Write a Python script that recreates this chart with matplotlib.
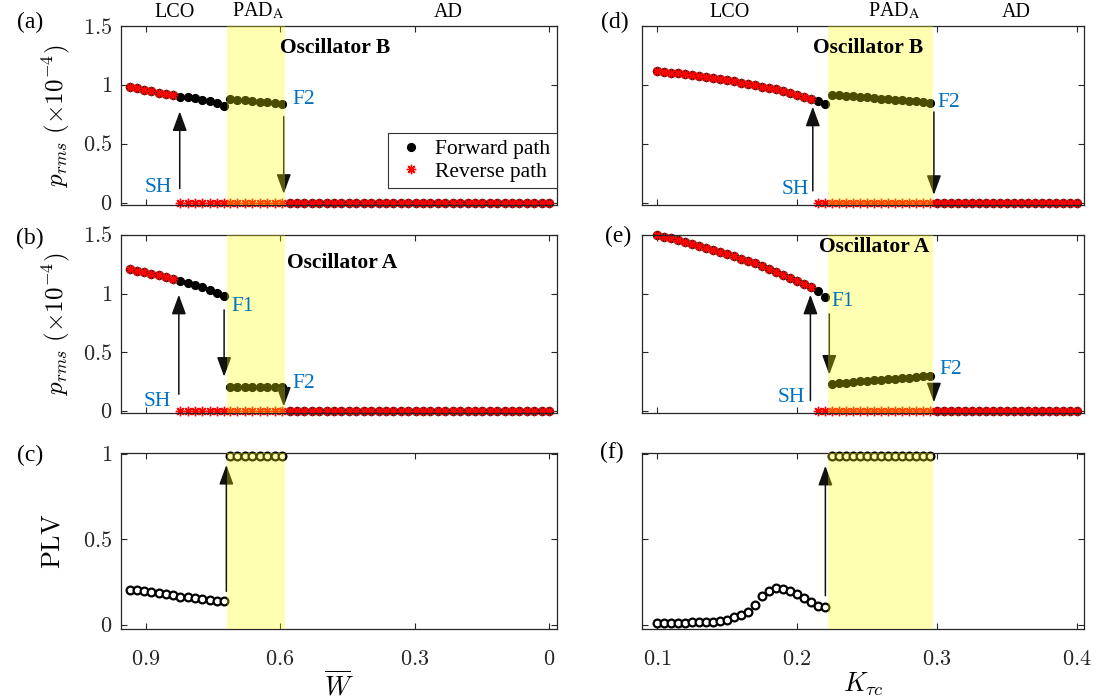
import numpy as np
import matplotlib
matplotlib.use('Agg')
import matplotlib.pyplot as plt
from matplotlib.lines import Line2D

plt.rcParams['mathtext.fontset'] = 'cm'
plt.rcParams['font.family'] = ['Liberation Serif', 'DejaVu Serif']

# ---------------- data: left column (sweep of W-bar, decreasing) ----------------
W_lco = np.linspace(0.936, 0.725, 14)
W_pad = np.linspace(0.712, 0.595, 8)
W_ad = np.linspace(0.579, 0.0, 36)
n_sh_W = 7   # reverse path stays on LCO for the first 7 points

pB_W_lco = [0.98, 0.97, 0.958, 0.947, 0.935, 0.923, 0.912, 0.90, 0.895, 0.887, 0.873, 0.864, 0.85, 0.824]
pB_W_pad = [0.878, 0.874, 0.868, 0.864, 0.858, 0.852, 0.846, 0.84]
pA_W_lco = [1.21, 1.196, 1.185, 1.171, 1.16, 1.145, 1.128, 1.108, 1.091, 1.074, 1.054, 1.031, 1.008, 0.98]
pA_W_pad = [0.202, 0.201, 0.2, 0.2, 0.2, 0.2, 0.199, 0.199]
plv_W_lco = [0.205, 0.201, 0.195, 0.192, 0.186, 0.18, 0.172, 0.165, 0.161, 0.155, 0.149, 0.144, 0.14, 0.138]
plv_W_pad = [0.99, 0.99, 0.99, 0.99, 0.99, 0.99, 0.99, 0.99]

# ---------------- data: right column (sweep of K_tau_c, increasing) ----------------
K_lco = np.round(np.arange(0.100, 0.2201, 0.005), 3)
K_pad = np.round(np.arange(0.225, 0.2951, 0.005), 3)
K_ad = np.round(np.arange(0.300, 0.4001, 0.005), 3)
n_sh_K = 23

pB_K_lco = [1.12, 1.112, 1.105, 1.097, 1.09, 1.083, 1.075, 1.068, 1.06, 1.05, 1.04, 1.03, 1.02,
            1.008, 0.997, 0.986, 0.975, 0.963, 0.95, 0.935, 0.918, 0.90, 0.88, 0.866, 0.837]
pB_K_pad = [0.917, 0.912, 0.907, 0.902, 0.897, 0.893, 0.888, 0.884, 0.879, 0.874, 0.869, 0.864, 0.859, 0.854, 0.849]
pA_K_lco = [1.5, 1.486, 1.472, 1.455, 1.44, 1.422, 1.406, 1.389, 1.372, 1.354, 1.336, 1.318, 1.298,
            1.278, 1.258, 1.236, 1.212, 1.188, 1.162, 1.136, 1.108, 1.082, 1.055, 1.02, 0.97]
pA_K_pad = [0.229, 0.234, 0.239, 0.244, 0.249, 0.254, 0.258, 0.263, 0.268, 0.273, 0.278, 0.283, 0.288, 0.292, 0.297]
plv_K_lco = [0.01, 0.008, 0.008, 0.01, 0.012, 0.014, 0.016, 0.016, 0.018, 0.021, 0.029, 0.043, 0.057,
             0.076, 0.117, 0.166, 0.195, 0.213, 0.211, 0.2, 0.18, 0.154, 0.131, 0.111, 0.101]
plv_K_pad = [0.99] * 15

band_W = (0.718, 0.589)
band_K = (0.2222, 0.2975)

W_ticks = [0.9, 0.6, 0.3, 0.0]
W_ticklabels = ['$0.9$', '$0.6$', '$0.3$', '$0$']
K_ticks = [0.1, 0.2, 0.3, 0.4]
K_ticklabels = ['$0.1$', '$0.2$', '$0.3$', '$0.4$']
p_ticks = [0, 0.5, 1, 1.5]
p_ticklabels = ['$0$', '$0.5$', '$1$', '$1.5$']
plv_ticks = [0, 0.5, 1]
plv_ticklabels = ['$0$', '$0.5$', '$1$']

# ---------------- figure ----------------
fig = plt.figure(figsize=(11.02, 6.99), dpi=100)
LX, LW = 121 / 1102, 436 / 1102
RX, RW = 642 / 1102, 442 / 1102
rows = [(1 - 205 / 699, 179 / 699), (1 - 413 / 699, 178 / 699), (1 - 629 / 699, 176 / 699)]

axes = {}
for key, x0, w in [('L', LX, LW), ('R', RX, RW)]:
    for i, (b, h) in enumerate(rows):
        axes[(key, i)] = fig.add_axes([x0, b, w, h])

SPINE = '#262626'
BLUE = '#0070C0'
YEL = (1.0, 1.0, 0.0)


def style(ax):
    for s in ax.spines.values():
        s.set_color(SPINE)
        s.set_linewidth(0.9)
    ax.tick_params(direction='in', top=True, right=True, length=4, width=0.8,
                   colors=SPINE, labelsize=16)
    ax.tick_params(axis='y', pad=6)
    ax.tick_params(axis='x', pad=16)


def arrow(ax, x, y0, y1, lw=1.1):
    ax.annotate('', xy=(x, y1), xytext=(x, y0),
                arrowprops=dict(arrowstyle='-|>,head_length=0.6,head_width=0.22',
                                mutation_scale=20, lw=lw, color='#111111',
                                shrinkA=0, shrinkB=0),
                zorder=2.8, annotation_clip=False)


def plot_p(ax, x_lco, x_pad, x_ad, lco, pad, n_sh):
    xf = np.concatenate([x_lco, x_pad, x_ad])
    yf = np.concatenate([lco, pad, np.zeros(len(x_ad))])
    yr = np.concatenate([np.asarray(lco[:n_sh]), np.zeros(len(xf) - n_sh)])
    ax.plot(xf, yf, ls='none', marker='o', ms=5.6, mfc='k', mec='k', zorder=2, clip_on=False)
    ax.plot(xf, yr, ls='none', marker=(8, 2, 0), ms=6.8, mec='red', mew=1.0, zorder=2.5, clip_on=False)


def plot_plv(ax, x_lco, x_pad, lco, pad):
    xf = np.concatenate([x_lco, x_pad])
    yf = np.concatenate([lco, pad])
    ax.plot(xf, yf, ls='none', marker='o', ms=5.6, mfc='white', mec='k', mew=1.6, zorder=2, clip_on=False)


tkw = dict(fontsize=15.5, color=BLUE, ha='center', va='center', zorder=4)
okw = dict(fontsize=15.5, fontweight='bold', ha='center', va='center', zorder=4)

# ---------------- left column ----------------
axa, axb, axc = axes[('L', 0)], axes[('L', 1)], axes[('L', 2)]
plot_p(axa, W_lco, W_pad, W_ad, pB_W_lco, pB_W_pad, n_sh_W)
plot_p(axb, W_lco, W_pad, W_ad, pA_W_lco, pA_W_pad, n_sh_W)
plot_plv(axc, W_lco, W_pad, plv_W_lco, plv_W_pad)

arrow(axa, 0.824, 0.12, 0.775)
arrow(axa, 0.592, 0.73, 0.075)
axa.text(0.871, 0.127, 'SH', **tkw)
axa.text(0.548, 0.872, 'F2', **tkw)
axa.text(0.477, 1.31, 'Oscillator B', **okw)

arrow(axb, 0.826, 0.14, 0.99)
arrow(axb, 0.725, 0.86, 0.29)
arrow(axb, 0.592, 0.128, 0.035)
axb.text(0.875, 0.077, 'SH', **tkw)
axb.text(0.684, 0.89, 'F1', **tkw)
axb.text(0.548, 0.228, 'F2', **tkw)
axb.text(0.461, 1.26, 'Oscillator A', **okw)

arrow(axc, 0.72, 0.195, 0.935)

for ax in (axa, axb):
    ax.set_ylim(-0.02, 1.5)
    ax.set_yticks(p_ticks)
    ax.set_yticklabels(p_ticklabels)
    ax.set_ylabel(r'$p_{rms}\ (\times 10^{-4})$', fontsize=18)
    ax.yaxis.set_label_coords(-0.112, 0.5)
axc.set_ylim(-0.025, 1.005)
axc.set_yticks(plv_ticks)
axc.set_yticklabels(plv_ticklabels)
axc.set_ylabel(r'$\mathrm{PLV}$', fontsize=19)
axc.yaxis.set_label_coords(-0.13, 0.5)
for ax in (axa, axb, axc):
    ax.set_xlim(0.955, -0.0175)
    ax.set_xticks(W_ticks)
    ax.axvspan(band_W[1], band_W[0], color=YEL, alpha=0.3, lw=0, zorder=3)
    style(ax)
axa.tick_params(labelbottom=False)
axb.tick_params(labelbottom=False)
axc.set_xticklabels(W_ticklabels)
axc.set_xlabel(r'$\overline{W}$', fontsize=19, labelpad=0)

for x, s in [(0.835, 'LCO'), (0.648, r'PAD$_\mathrm{A}$'), (0.226, 'AD')]:
    axa.text(x, 1.025, s, transform=axa.get_xaxis_transform(), ha='center', va='bottom',
             fontsize=14.5, math_fontfamily='stix')

leg_handles = [Line2D([], [], ls='none', marker='o', ms=5.6, mfc='k', mec='k'),
               Line2D([], [], ls='none', marker=(8, 2, 0), ms=6.8, mec='red', mew=1.0)]
leg = axa.legend(leg_handles, ['Forward path', 'Reverse path'], loc='lower right',
                 bbox_to_anchor=(1.0, 0.095), borderaxespad=0, fontsize=15.5,
                 fancybox=False, framealpha=1, edgecolor='#333333', handletextpad=0.4,
                 labelspacing=0.1, borderpad=0.3, handlelength=1.5)
leg.get_frame().set_linewidth(0.8)

# ---------------- right column ----------------
axd, axe, axf = axes[('R', 0)], axes[('R', 1)], axes[('R', 2)]
plot_p(axd, K_lco, K_pad, K_ad, pB_K_lco, pB_K_pad, n_sh_K)
plot_p(axe, K_lco, K_pad, K_ad, pA_K_lco, pA_K_pad, n_sh_K)
plot_plv(axf, K_lco, K_pad, plv_K_lco, plv_K_pad)

arrow(axd, 0.2114, 0.10, 0.815)
arrow(axd, 0.298, 0.77, 0.066)
axd.text(0.199, 0.114, 'SH', **tkw)
axd.text(0.3087, 0.85, 'F2', **tkw)
axd.text(0.251, 1.314, 'Oscillator B', **okw)

arrow(axe, 0.2097, 0.085, 0.99)
arrow(axe, 0.2232, 0.826, 0.308)
arrow(axe, 0.298, 0.214, 0.071)
axe.text(0.196, 0.114, 'SH', **tkw)
axe.text(0.2329, 0.93, 'F1', **tkw)
axe.text(0.310, 0.351, 'F2', **tkw)
axe.text(0.255, 1.40, 'Oscillator A', **okw)

arrow(axf, 0.2204, 0.17, 0.93)

for ax in (axd, axe):
    ax.set_ylim(-0.02, 1.5)
    ax.set_yticks(p_ticks)
axf.set_ylim(-0.025, 1.005)
axf.set_yticks(plv_ticks)
for ax in (axd, axe, axf):
    ax.set_xlim(0.0893, 0.4053)
    ax.set_xticks(K_ticks)
    ax.axvspan(band_K[0], band_K[1], color=YEL, alpha=0.3, lw=0, zorder=3)
    style(ax)
    ax.tick_params(labelleft=False)
axd.tick_params(labelbottom=False)
axe.tick_params(labelbottom=False)
axf.set_xticklabels(K_ticklabels)
axf.set_xlabel(r'$K_{\tau c}$', fontsize=19, labelpad=0)

for x, s in [(0.1517, 'LCO'), (0.2696, r'PAD$_\mathrm{A}$'), (0.3565, 'AD')]:
    axd.text(x, 1.025, s, transform=axd.get_xaxis_transform(), ha='center', va='bottom',
             fontsize=14.5, math_fontfamily='stix')

# panel labels
for (x, y), s in [((30, 22), '(a)'), ((30, 238), '(b)'), ((30, 455), '(c)'),
                  ((615, 22), '(d)'), ((618, 236), '(e)'), ((612, 452), '(f)')]:
    fig.text(x / 1102, 1 - y / 699, s, fontsize=17, ha='center', va='center')

fig.savefig('out.png', dpi=100)
